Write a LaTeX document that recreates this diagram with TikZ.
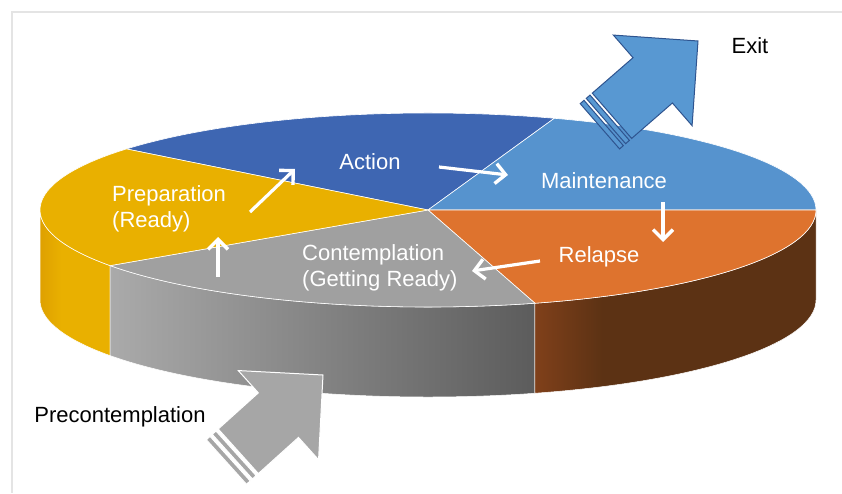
\documentclass[tikz,border=0pt]{standalone}
\usepackage{fontspec}
\setmainfont{Liberation Sans}
\usetikzlibrary{arrows.meta,calc}

\definecolor{actionblue}{RGB}{62,102,178}
\definecolor{maintblue}{RGB}{86,147,206}
\definecolor{relapseorange}{RGB}{222,115,46}
\definecolor{contempgray}{RGB}{160,160,160}
\definecolor{prepyellow}{RGB}{233,176,0}
\definecolor{yellowL}{RGB}{222,160,0}
\definecolor{grayL}{RGB}{170,170,170}
\definecolor{grayR}{RGB}{92,92,92}
\definecolor{brownL}{RGB}{128,64,26}
\definecolor{brownR}{RGB}{92,50,20}
\definecolor{exitblue}{RGB}{88,152,210}
\definecolor{exitline}{RGB}{47,84,143}
\definecolor{bigarrowgray}{RGB}{166,166,166}
\definecolor{framegray}{RGB}{228,228,228}

\pgfdeclarehorizontalshading{yellowside}{100bp}{color(0bp)=(yellowL); color(25bp)=(yellowL); color(40bp)=(prepyellow); color(100bp)=(prepyellow)}
\pgfdeclarehorizontalshading{grayside}{100bp}{color(0bp)=(grayL); color(25bp)=(grayL); color(75bp)=(grayR); color(100bp)=(grayR)}
\pgfdeclarehorizontalshading{brownside}{100bp}{color(0bp)=(brownL); color(25bp)=(brownL); color(37bp)=(brownR); color(100bp)=(brownR)}

\tikzstyle{stage}=[text=white,font=\fontsize{22}{26}\selectfont,align=left,inner sep=0pt]
\tikzstyle{outside}=[text=black,font=\fontsize{22}{26}\selectfont,inner sep=0pt]
\tikzstyle{cycleto}=[->,white,line width=3.2pt]

\begin{document}
\begin{tikzpicture}[x=1pt,y=1pt,>={Straight Barb[length=10pt,width=20pt,line width=3.4pt]}]
	\useasboundingbox (0,0) rectangle (842,493);
	\draw[framegray,line width=1.5pt] (12,0) -- (12,481) -- (842,481);
	\coordinate (O) at (428,283);
	
	% sides of the pie
	\foreach \a/\b/\s in {180/215/yellowside, 215/286/grayside, 286/360/brownside}{
		\path[shading=\s,draw=white,line width=0.5pt]
			($(O)+(\a:388pt and 97pt)$) arc[start angle=\a,end angle=\b,x radius=388pt,y radius=97pt]
			-- ++(0,-90) arc[start angle=\b,end angle=\a,x radius=388pt,y radius=97pt] -- cycle;
	}
	
	% top slices
	\foreach \a/\b/\c in {71/141/actionblue, 0/71/maintblue, -74/0/relapseorange, 215/286/contempgray, 141/215/prepyellow}{
		\path[fill=\c,draw=white,line width=0.6pt]
			(O) -- ++(\a:388pt and 97pt) arc[start angle=\a,end angle=\b,x radius=388pt,y radius=97pt] -- cycle;
	}
	
	\node[stage] (A) at (370,331) {Action};
	\node[stage] (M) at (604,312) {Maintenance};
	\node[stage] (R) at (599,236) {Relapse};
	\node[stage,anchor=north west] (C) at (302,249) {Contemplation\\(Getting Ready)};
	\node[stage,anchor=north west] (P) at (112,308) {Preparation\\(Ready)};
	\node[outside] (X) at (750,447) {Exit};
	\node[outside] (PC) at (120,76) {Precontemplation};
	
	\coordinate (CP1) at (218,216); \coordinate (CP2) at (218,256);
	\coordinate (PA1) at (250,281); \coordinate (PA2) at (295,324);
	\coordinate (AM1) at (439,326); \coordinate (AM2) at (508,318);
	\coordinate (MR1) at (663,291); \coordinate (MR2) at (663,251);
	\coordinate (RC1) at (540,232); \coordinate (RC2) at (472,222);
	\foreach \s/\e in {CP1/CP2, PA1/PA2, AM1/AM2, MR1/MR2, RC1/RC2}
		\draw[cycleto] (\s) -- (\e);
	
	% big arrows in and out
	\newcommand{\bigarrow}[4]{
		\begin{scope}[shift={(#1)},rotate=#2,fill=#3,draw=#4,line width=1pt]
			\filldraw (0,0) -- (-60,60) -- (-60,30) -- (-114,30) -- (-114,-30) -- (-60,-30) -- (-60,-60) -- cycle;
			\filldraw (-117,30) rectangle (-122,-30);
			\filldraw (-125,30) rectangle (-130,-30);
		\end{scope}
	}
	\coordinate (XT) at (698,452);
	\coordinate (PT) at (323,118);
	\bigarrow{XT}{41}{exitblue}{exitline}
	\bigarrow{PT}{42}{bigarrowgray}{white}
\end{tikzpicture}
\end{document}
